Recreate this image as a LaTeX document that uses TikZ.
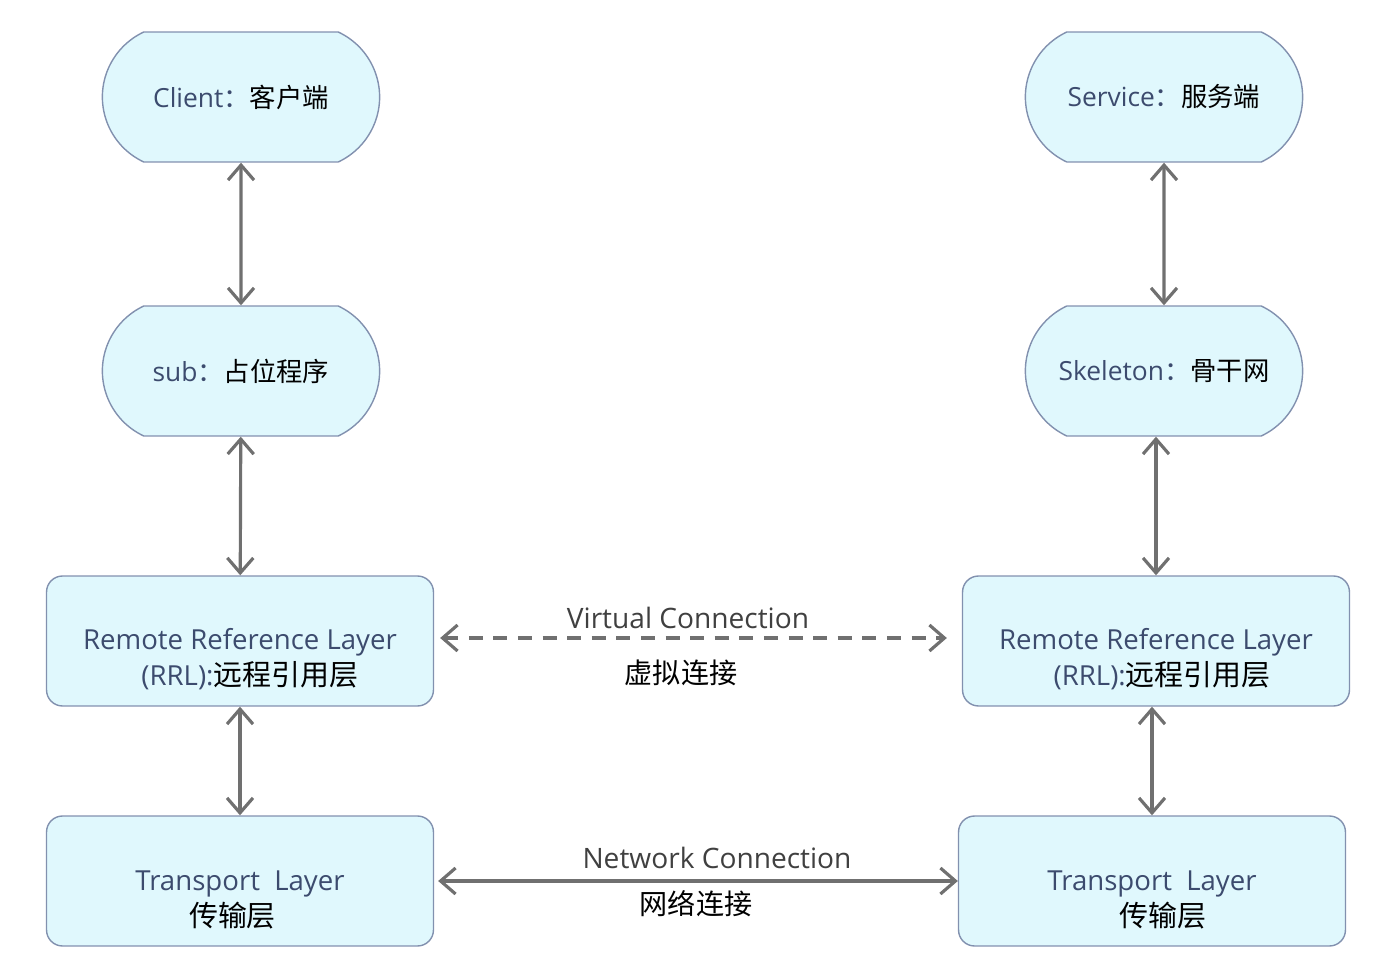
\documentclass[tikz,border=0pt]{standalone}
\usepackage{fontspec}
\setmainfont{Open Sans}
\newfontfamily\cjk{Noto Sans CJK SC}
\usetikzlibrary{arrows.meta,shapes.misc}
\definecolor{boxfill}{RGB}{224,248,253}
\definecolor{boxline}{RGB}{130,145,175}
\definecolor{entext}{RGB}{60,75,110}
\definecolor{linkgray}{RGB}{112,112,112}
\newcommand{\zh}[1]{{\cjk\color{black}#1}}
\newcommand{\lift}{\rule{0pt}{1.15cm}}

\begin{document}
\begin{tikzpicture}[x=0.02cm, y=-0.02cm,
  endpoint/.style={rounded rectangle, rounded rectangle arc length=130, draw=boxline, fill=boxfill, line width=0.8pt, minimum width=5.78cm, minimum height=2.6cm, text=entext, font=\fontsize{15}{18}\selectfont},
  layer/.style={rectangle, rounded corners=0.32cm, draw=boxline, fill=boxfill, line width=0.8pt, minimum width=7.74cm, minimum height=2.6cm, align=center, text=entext, font=\fontsize{15.7}{20}\selectfont},
  conn/.style={draw=linkgray, line width=1.8pt, {Straight Barb[length=3mm,width=5.2mm]}-{Straight Barb[length=3mm,width=5.2mm]}},
  tag/.style={font=\fontsize{16}{18}\selectfont, text=darkgray}
]
\useasboundingbox (0,0) rectangle (1377,959);

\node[endpoint] (client) at (241,97) {Client{\cjk ：}\zh{客户端}};
\node[endpoint] (sub) at (241,371) {sub{\cjk ：}\zh{占位程序}};
\node[endpoint] (service) at (1164,97) {Service{\cjk ：}\zh{服务端}};
\node[endpoint] (skeleton) at (1164,371) {Skeleton{\cjk ：}\zh{骨干网}};

\node[layer] (rrlL) at (240,641) {\lift Remote Reference Layer\\\hspace*{0.4cm}(RRL):\zh{\fontsize{16.5}{20}\selectfont 远程引用层}};
\node[layer] (rrlR) at (1156,641) {\lift Remote Reference Layer\\\hspace*{0.25cm}(RRL):\zh{\fontsize{16.5}{20}\selectfont 远程引用层}};
\node[layer] (tranL) at (240,881) {\lift Transport\ \ Layer\\\zh{\fontsize{16.5}{20}\selectfont 传输层}\hspace*{0.3cm}};
\node[layer] (tranR) at (1152,881) {\lift Transport\ \ Layer\\\hspace*{0.42cm}\zh{\fontsize{16.5}{20}\selectfont 传输层}};

\draw[conn] (client) -- (sub);
\draw[conn] (sub) -- (rrlL);
\draw[conn] (service) -- (skeleton);
\draw[conn] (skeleton.south -| rrlR.north) -- (rrlR.north);
\draw[conn] (rrlL) -- (tranL);
\draw[conn] (rrlR.south -| tranR.north) -- (tranR.north);

\draw[conn, dash pattern=on 8pt off 6pt, shorten <=0.12cm, shorten >=0.3cm]
  ([yshift=0.06cm]rrlL.east) -- ([yshift=0.06cm]rrlR.west)
  node[midway, above=1pt, xshift=-0.2cm, tag] {Virtual Connection}
  node[midway, below=8pt, xshift=-0.34cm, tag] {\zh{虚拟连接}};
\draw[conn, shorten <=0.08cm] (tranL.east) -- (tranR.west)
  node[midway, above=3pt, xshift=0.42cm, tag] {Network Connection}
  node[midway, below=1pt, tag] {\zh{网络连接}};
\end{tikzpicture}
\end{document}
